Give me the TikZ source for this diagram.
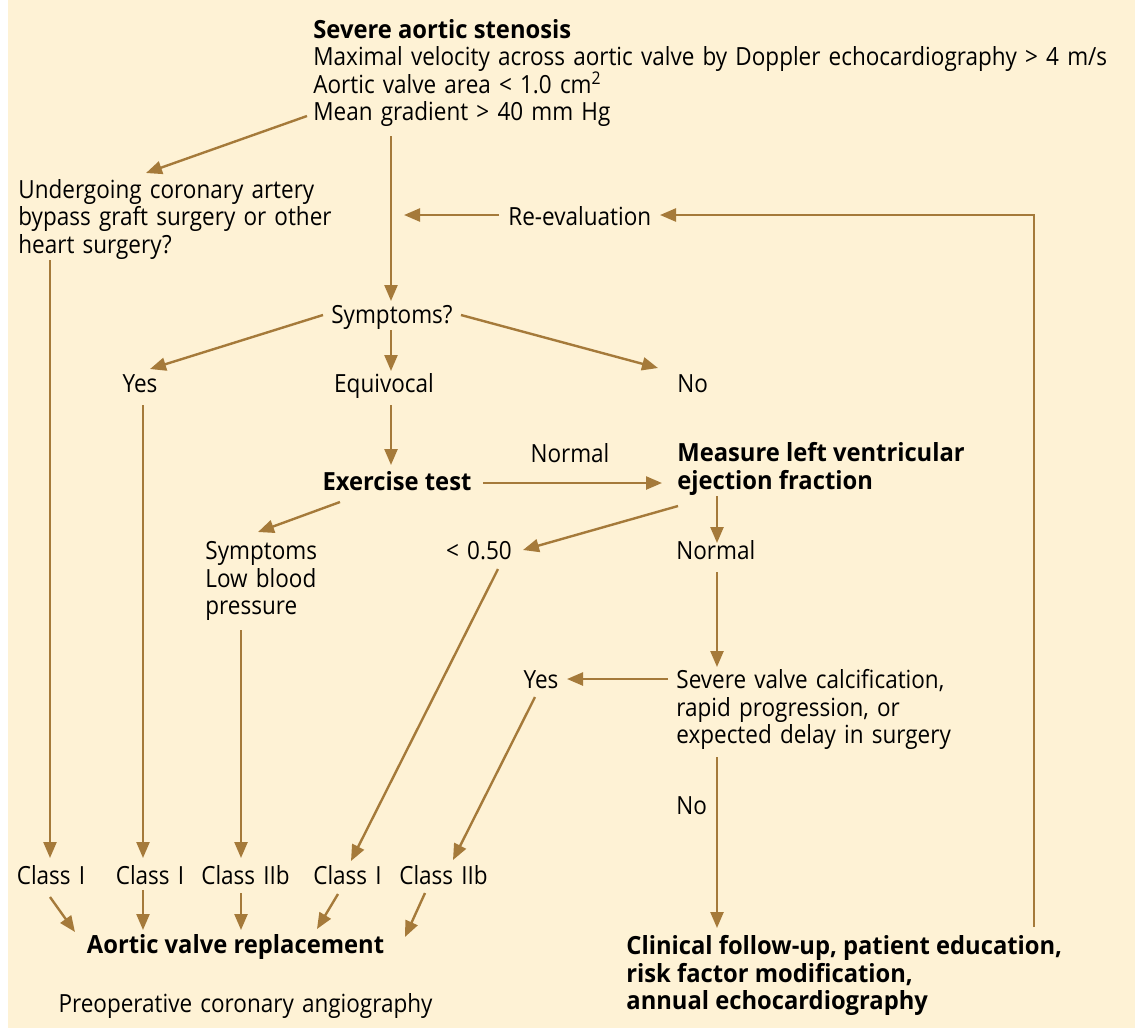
\documentclass[tikz,border=0pt]{standalone}
\usepackage{fontspec}
\setmainfont{Open Sans}[FakeStretch=0.9, WordSpace=1.4, BoldFeatures={FakeStretch=0.95, WordSpace=1}]
\usetikzlibrary{arrows.meta}
\definecolor{cream}{HTML}{FEF2D5}
\definecolor{arrowbrown}{HTML}{A57A3A}

\begin{document}
\begin{tikzpicture}[x=0.5pt, y=-0.5pt,
    every node/.style={inner sep=0pt, font=\fontsize{12.5}{13.75}\selectfont},
    hd/.style={font=\fontsize{12.5}{13.75}\selectfont\bfseries},
    ml/.style={align=left, anchor=north west},
    arr/.style={-{Triangle[length=8pt,width=6.5pt]}, line width=1.2pt, draw=arrowbrown}]
    \useasboundingbox (0,0) rectangle (1135,1030);
    \fill[cream] (8,0) rectangle (1135,1028);

    % Nodes
    \node[ml] (top) at (313,19) {\textbf{Severe aortic stenosis}\\Maximal velocity across aortic valve by Doppler echocardiography > 4 m/s\\Aortic valve area < 1.0 cm\textsuperscript{2}\\Mean gradient > 40 mm Hg};
    \node[ml] (cabg) at (18,179) {Undergoing coronary artery\\bypass graft surgery or other\\heart surgery?};
    \node[anchor=base west] (reeval) at (508,225) {Re-evaluation};
    \node[anchor=base] (symp) at (392,323) {Symptoms?};
    \node[anchor=base] (yes1) at (140,392) {Yes};
    \node[anchor=base] (equiv) at (384,392) {Equivocal};
    \node[anchor=base west] (no1) at (677,392) {No};
    \node[hd, anchor=base] (exer) at (397,490) {Exercise test};
    \node[anchor=base] (normlab) at (570,462) {Normal};
    \node[hd, ml] (measure) at (677,442) {Measure left ventricular\\ejection fraction};
    \node[ml] (sympblk) at (205,541) {Symptoms\\Low blood\\pressure};
    \node[anchor=base] (lt050) at (479,559) {< 0.50};
    \node[anchor=base west] (norm2) at (676,559) {Normal};
    \node[ml] (calc) at (676,669) {Severe valve calcification,\\rapid progression, or\\expected delay in surgery};
    \node[anchor=base] (yes2) at (541,688) {Yes};
    \node[anchor=base west] (no2) at (676,814) {No};
    \node[anchor=base] (class1) at (51,884) {Class I};
    \node[anchor=base] (class2) at (150,884) {Class I};
    \node[anchor=base] (class3) at (245.5,884) {Class IIb};
    \node[anchor=base] (class4) at (347.5,884) {Class I};
    \node[anchor=base] (class5) at (443.5,884) {Class IIb};
    \node[hd, anchor=base] (avr) at (235.5,953) {Aortic valve replacement};
    \node[anchor=base] (preop) at (245.5,1012) {Preoperative coronary angiography};
    \node[hd, ml] (clin) at (626,935) {Clinical follow-up, patient education,\\risk factor modification,\\annual echocardiography};

    % Arrows
    \draw[arr] ([shift={(-6,97)}]top.north west) -- ([shift={(128,-6)}]cabg.north west);
    \draw[arr] ([shift={(78,117)}]top.north west) -- ([shift={(-1,-22)}]symp.base);
    \draw[arr] ([shift={(-9,-10)}]reeval.base west) -- ([shift={(91,196)}]top.north west);
    \draw[arr] ([shift={(408,-8)}]clin.north west) |- ([shift={(152,-10)}]reeval.base west);
    \draw[arr] ([shift={(32,81)}]cabg.north west) -- ([shift={(-1,-26)}]class1.base);
    \draw[arr] ([shift={(-69,-8)}]symp.base) -- ([shift={(10,-23)}]yes1.base);
    \draw[arr] ([shift={(-1,7)}]symp.base) -- ([shift={(7,-21)}]equiv.base);
    \draw[arr] ([shift={(69,-8)}]symp.base) -- ([shift={(-19,-24)}]no1.base west);
    \draw[arr] ([shift={(3,13)}]yes1.base) -- ([shift={(-7,-26)}]class2.base);
    \draw[arr] ([shift={(7,13)}]equiv.base) -- ([shift={(-6,-25)}]exer.base);
    \draw[arr] ([shift={(86,-7)}]exer.base) -- ([shift={(-15,41)}]measure.north west);
    \draw[arr] ([shift={(-57,12)}]exer.base) -- ([shift={(53,-9)}]sympblk.north west);
    \draw[arr] ([shift={(1,64)}]measure.north west) -- ([shift={(44,-9)}]lt050.base);
    \draw[arr] ([shift={(40,54)}]measure.north west) -- ([shift={(41,-16)}]norm2.base west);
    \draw[arr] ([shift={(41,13)}]norm2.base west) -- ([shift={(41,-2)}]calc.north west);
    \draw[arr] ([shift={(-8,10)}]calc.north west) -- ([shift={(26,-9)}]yes2.base);
    \draw[arr] ([shift={(-6,9)}]yes2.base) -- ([shift={(9.5,-24)}]class5.base);
    \draw[arr] ([shift={(19,10)}]lt050.base) -- ([shift={(3.5,-23)}]class4.base);
    \draw[arr] ([shift={(36,89)}]sympblk.north west) -- ([shift={(-4.5,-26)}]class3.base);
    \draw[arr] ([shift={(41,88)}]calc.north west) -- ([shift={(91,-7)}]clin.north west);
    \draw[arr] ([shift={(-1,13)}]class1.base) -- ([shift={(-160.5,-21)}]avr.base);
    \draw[arr] ([shift={(-7,6)}]class2.base) -- ([shift={(-92.5,-23)}]avr.base);
    \draw[arr] ([shift={(-4.5,9)}]class3.base) -- ([shift={(5.5,-23)}]avr.base);
    \draw[arr] ([shift={(-9.5,10)}]class4.base) -- ([shift={(81.5,-24)}]avr.base);
    \draw[arr] ([shift={(-18.5,9)}]class5.base) -- ([shift={(169.5,-16)}]avr.base);
\end{tikzpicture}
\end{document}
